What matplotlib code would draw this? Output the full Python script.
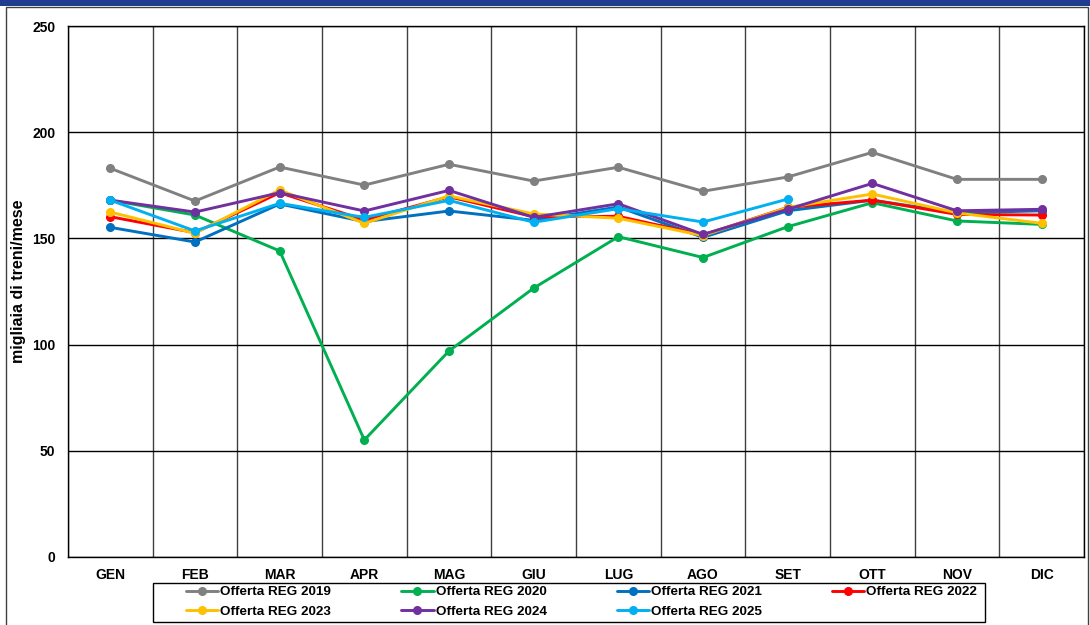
import numpy as np
import matplotlib.pyplot as plt
from matplotlib.patches import Rectangle

plt.rcParams['font.family'] = ['Liberation Sans', 'DejaVu Sans']

mesi = ['GEN', 'FEB', 'MAR', 'APR', 'MAG', 'GIU', 'LUG', 'AGO', 'SET', 'OTT', 'NOV', 'DIC']

reg_2019 = [183.0, 167.6, 183.6, 175.1, 184.9, 177.0, 183.5, 172.2, 178.9, 190.5, 177.8, 177.8]
reg_2020 = [168.0, 161.0, 144.1, 55.1, 97.0, 126.6, 150.8, 141.0, 155.5, 166.8, 158.2, 156.6]
reg_2021 = [155.2, 148.3, 166.2, 157.9, 162.9, 158.5, 164.8, 150.5, 163.0, 168.0, 162.0, 163.0]
reg_2022 = [160.2, 152.7, 171.5, 158.7, 169.6, 160.2, 160.4, 151.6, 164.6, 168.0, 161.3, 161.0]
reg_2023 = [162.4, 152.4, 172.8, 157.1, 170.0, 161.5, 159.5, 151.3, 164.6, 170.9, 162.0, 157.1]
reg_2024 = [168.0, 162.4, 171.5, 162.9, 172.6, 159.9, 166.3, 151.9, 163.7, 175.9, 163.0, 163.7]
reg_2025 = [168.0, 153.5, 166.5, 159.9, 167.9, 157.6, 164.0, 157.7, 168.5]

serie = [
    ('Offerta REG 2019', reg_2019, '#808080'),
    ('Offerta REG 2020', reg_2020, '#00B050'),
    ('Offerta REG 2021', reg_2021, '#0070C0'),
    ('Offerta REG 2022', reg_2022, '#FF0000'),
    ('Offerta REG 2023', reg_2023, '#FFC000'),
    ('Offerta REG 2024', reg_2024, '#7030A0'),
    ('Offerta REG 2025', reg_2025, '#00B0F0'),
]

W, H = 1090, 625
fig = plt.figure(figsize=(W / 100, H / 100), dpi=100)

# banda blu in alto e cornice del grafico
fig.patches.append(Rectangle((0, 1 - 6/H), 1, 6/H, transform=fig.transFigure,
                             facecolor='#203C8E', edgecolor='none', zorder=0))
fig.patches.append(Rectangle((6/W, -0.01), 1082/W, 1 - 7/H + 0.01,
                             transform=fig.transFigure, facecolor='none',
                             edgecolor='#404040', lw=1.0, zorder=0))

ax = fig.add_axes([68/W, 1 - 557/H, 1016/W, 531/H])

x = np.arange(len(mesi))
linee = []
for nome, val, col in serie:
    l, = ax.plot(x[:len(val)], val, color=col, lw=2.1, marker='o', markersize=5.5,
                 label=nome, solid_capstyle='round')
    linee.append(l)

ax.set_xlim(-0.5, len(mesi) - 0.5)
ax.set_ylim(0, 250)
ax.set_yticks(np.arange(0, 251, 50))
ax.set_xticks(x)
ax.set_xticklabels(mesi)
ax.set_xticks(np.arange(-0.5, len(mesi), 1), minor=True)

ax.grid(axis='y', which='major', color='black', lw=1.0)
ax.grid(axis='x', which='minor', color='#404040', lw=1.0)
ax.set_axisbelow(True)
for s in ax.spines.values():
    s.set_color('black')
    s.set_linewidth(1.0)

ax.tick_params(axis='both', which='both', length=0)
ax.tick_params(axis='y', pad=9)
ax.tick_params(axis='x', pad=8)
for lab in ax.get_xticklabels() + ax.get_yticklabels():
    lab.set_fontweight('bold')
    lab.set_fontsize(10)

fig.text(19/W, 1 - 281/H, 'migliaia di treni/mese', rotation=90, ha='center',
         va='center', fontsize=11.5, fontweight='bold')

# legenda su due righe: l'ordine riempie le colonne una per una
ordine = [0, 4, 1, 5, 2, 6, 3]
leg = fig.legend([linee[i] for i in ordine], [serie[i][0] for i in ordine],
                 loc='center left', bbox_to_anchor=(186/W, 1 - 602/H),
                 ncol=4, fontsize=9.7, frameon=False, handlelength=2.4,
                 handletextpad=0.15, borderpad=0, borderaxespad=0,
                 labelspacing=0.55, columnspacing=5.2)
for t in leg.get_texts():
    t.set_fontweight('bold')
fig.patches.append(Rectangle((153/W, 1 - 622/H), 832/W, 39/H, transform=fig.transFigure,
                             facecolor='none', edgecolor='black', lw=1.0))

fig.savefig('out.png', dpi=100)
